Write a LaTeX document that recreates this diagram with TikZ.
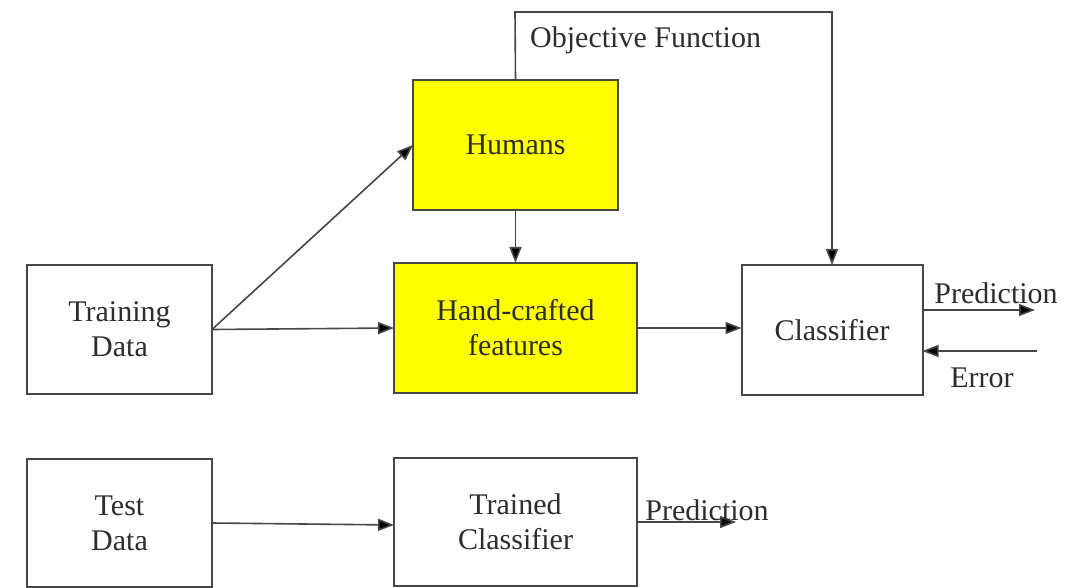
\documentclass[tikz,border=0pt]{standalone}
\usepackage{fontspec}
\setmainfont{Liberation Serif}
\usetikzlibrary{arrows.meta}
\definecolor{boxyellow}{RGB}{255,255,0}
\definecolor{inkgray}{RGB}{45,45,45}
\begin{document}
\begin{tikzpicture}[x=1pt,y=-1pt,
  box/.style={draw=black!72, line width=2pt, fill=white, outer sep=0pt,
    align=center, text=inkgray, font=\fontsize{30}{35}\selectfont},
  yellowbox/.style={box, fill=boxyellow},
  conn/.style={draw=black!72, line width=1.6pt, -{Triangle[length=16pt,width=12pt,fill=black]}},
  lbl/.style={text=inkgray, font=\fontsize{30}{34}\selectfont, inner sep=0pt}]
\useasboundingbox (0,0) rectangle (1074,588);
% boxes
\node[box, minimum width=185, minimum height=129] (train) at (119.5,329.5) {Training\\Data};
\node[box, minimum width=185, minimum height=128] (test) at (119.5,523) {Test\\Data};
\node[yellowbox, minimum width=205, minimum height=130] (humans) at (515.5,145) {Humans};
\node[yellowbox, minimum width=243, minimum height=130] (feat) at (515.5,328) {Hand-crafted\\features};
\node[box, minimum width=181, minimum height=130] (clf) at (832,330) {Classifier};
\node[box, minimum width=243, minimum height=128] (trained) at (515.5,522) {Trained\\Classifier};
% objective function feedback loop
\coordinate (objl) at (515,12);
\coordinate (objr) at (832,12);
\draw[conn] (humans.north) -- (objl) -- (objr) -- (clf.north);
\node[lbl, anchor=west] (objlbl) at (530,40) {Objective Function};
% main flow
\draw[conn] (humans.south) -- (feat.north);
\draw[conn] (train.east) -- (humans.west);
\draw[conn] (train.east) -- (feat.west);
\draw[conn] (feat.east) -- (clf.west |- feat.east);
\draw[conn] (test.east) -- (trained.west |- 0,525);
% classifier outputs
\coordinate (predend) at (1035,310);
\coordinate (errstart) at (1037,351);
\draw[conn] (clf.east |- predend) -- (predend);
\draw[conn] (errstart) -- (clf.east |- errstart);
\node[lbl] (predlbl) at (996,293) {Prediction};
\node[lbl] (errlbl) at (982,378) {Error};
% trained classifier output
\coordinate (tpredend) at (736,522);
\draw[conn] (trained.east |- tpredend) -- (tpredend);
\node[lbl] (tpredlbl) at (707,510) {Prediction};
\end{tikzpicture}
\end{document}
